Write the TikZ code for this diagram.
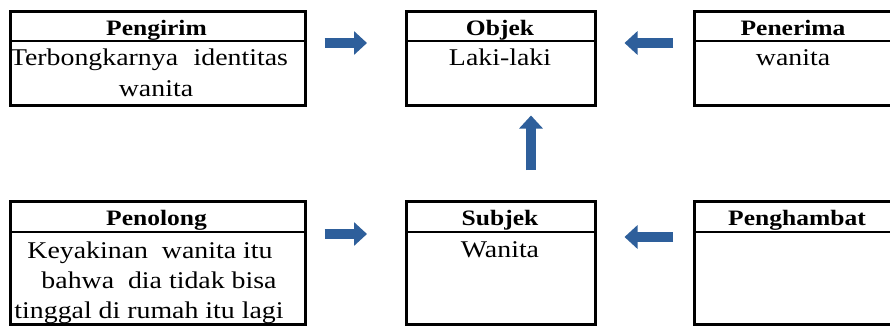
\documentclass[tikz,border=0pt]{standalone}
\usepackage{fontspec}
\setmainfont[FakeStretch=1.16]{Liberation Serif}
\usetikzlibrary{arrows.meta,calc}
\definecolor{arrowblue}{RGB}{46,95,155}
\tikzset{
  box/.style={draw, line width=2.5pt, inner sep=0pt, anchor=north west},
  rule/.style={line width=2.5pt},
  head/.style={anchor=base, inner sep=0pt, font=\fontsize{22pt}{26pt}\selectfont\bfseries},
  body/.style={anchor=base, inner sep=0pt, font=\fontsize{24pt}{30pt}\selectfont},
  blk/.style={draw=arrowblue, line width=10pt, -{Triangle[width=23pt,length=13pt]}}
}
\begin{document}
\begin{tikzpicture}[x=1pt,y=-1pt]
\clip (0,0) rectangle (890,327);
\fill[white] (0,0) rectangle (890,327);
% boxes
\node[box, minimum width=295pt, minimum height=94pt] (pengirim) at (9,10) {};
\node[box, minimum width=189pt, minimum height=94pt] (objek) at (405,10) {};
\node[box, minimum width=200pt, minimum height=94pt] (penerima) at (693,10) {};
\node[box, minimum width=295pt, minimum height=123pt] (penolong) at (9,200) {};
\node[box, minimum width=189pt, minimum height=123pt] (subjek) at (405,200) {};
\node[box, minimum width=200pt, minimum height=123pt] (penghambat) at (693,200) {};
% header rules
\foreach \b in {pengirim,objek,penerima}
  \draw[rule] ($(\b.north west)+(0,31)$) -- ($(\b.north east)+(0,31)$);
\foreach \b in {penolong,subjek,penghambat}
  \draw[rule] ($(\b.north west)+(0,32)$) -- ($(\b.north east)+(0,32)$);
% headers
\node[head] (h1) at (156.5,35) {Pengirim};
\node[head] (h2) at (500,35) {Objek};
\node[head] (h3) at (793,35) {Penerima};
\node[head] (h4) at (156.5,225) {Penolong};
\node[head] (h5) at (500,225) {Subjek};
\node[head] (h6) at (797,225) {Penghambat};
% bodies
\node[body] (b1a) at (149,65.5) {\hbox to 278pt{Terbongkarnya\hfil identitas}};
\node[body] (b1b) at (156,96) {wanita};
\node[body] (b2) at (500,65.5) {Laki-laki};
\node[body] (b3) at (793,65.5) {wanita};
\node[body] (b4a) at (150,258) {Keyakinan\ \ wanita itu};
\node[body] (b4b) at (159,288) {bahwa\ \ dia tidak bisa};
\node[body] (b4c) at (149,318) {tinggal di rumah itu lagi};
\node[body] (b5) at (500,257) {Wanita};
% arrows
\coordinate (rowA) at (0,43);
\coordinate (rowB) at (0,234);
\coordinate (rowC) at (0,237);
\coordinate (colV) at (531,0);
\draw[blk, shorten <=18pt, shorten >=38pt] (pengirim.east |- rowA) -- (objek.west |- rowA);
\draw[blk, shorten <=20pt, shorten >=28pt] (penerima.west |- rowA) -- (objek.east |- rowA);
\draw[blk, shorten <=18pt, shorten >=38pt] (penolong.east |- rowB) -- (subjek.west |- rowB);
\draw[blk, shorten <=20pt, shorten >=28pt] (penghambat.west |- rowC) -- (subjek.east |- rowC);
\draw[blk, shorten <=30pt, shorten >=9pt] (subjek.north -| colV) -- (objek.south -| colV);
\end{tikzpicture}
\end{document}
